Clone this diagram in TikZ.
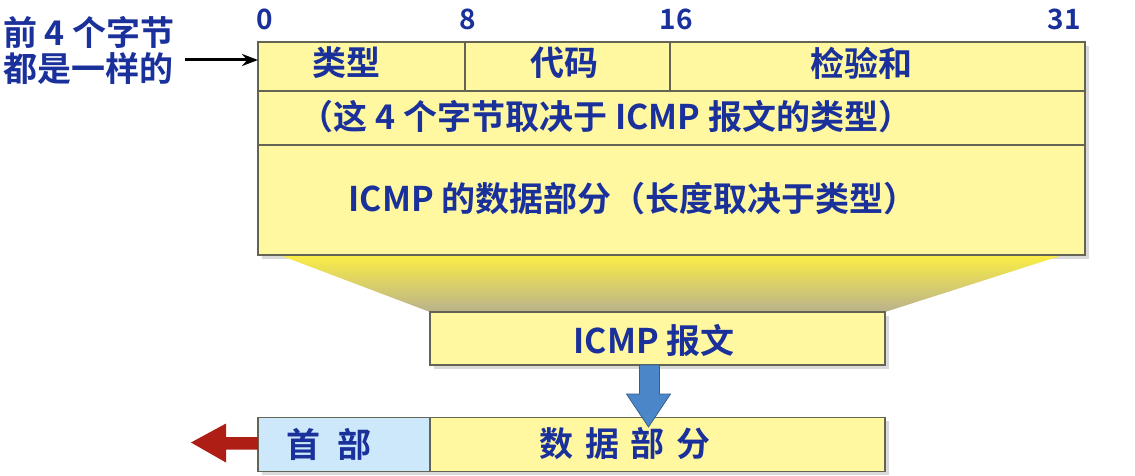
\documentclass[tikz,border=0pt]{standalone}
\usepackage{fontspec}
\setmainfont{Noto Sans CJK SC}[BoldFont={* Bold}]
\usetikzlibrary{arrows.meta,calc}
\definecolor{txt}{RGB}{26,48,155}
\definecolor{yel}{RGB}{255,248,160}
\definecolor{edge}{RGB}{100,100,85}
\definecolor{hdr}{RGB}{204,232,250}
\definecolor{barrow}{RGB}{75,135,200}
\definecolor{rarrow}{RGB}{175,30,20}
\definecolor{trtop}{RGB}{250,236,70}
\definecolor{trbot}{RGB}{185,178,140}
\begin{document}
\begin{tikzpicture}[x=1pt,y=-1pt,
  cell/.style={draw=edge, line width=1.1pt, fill=yel, inner sep=0pt, outer sep=0pt, rectangle},
  lbl/.style={text=txt, font=\bfseries\fontsize{34}{36}\selectfont, inner sep=0pt},
  bit/.style={text=txt, font=\bfseries\fontsize{28}{30}\selectfont, inner sep=0pt},
  shadowbox/.style={fill=black, opacity=0.15}]
\useasboundingbox[fill=white] (0,0) rectangle (1135,476);
% shadows
\fill[shadowbox] (262,46) rectangle (1089,259);
\fill[shadowbox] (434,316) rectangle (889,369);
\fill[shadowbox] (262,421) rectangle (889,475);
% trapezoid
\shade[top color=trtop, bottom color=trbot] (282,256) -- (1060,256) -- (885,312) -- (430,312) -- cycle;
% main box
\node[cell, minimum width=207, minimum height=49] (type) at (361.5,66.5) {};
\node[cell, minimum width=205, minimum height=49] (code) at (567.5,66.5) {};
\node[cell, minimum width=415, minimum height=49] (sum) at (877.5,66.5) {};
\node[cell, minimum width=827, minimum height=54] (row2) at (671.5,118) {};
\node[cell, minimum width=827, minimum height=110] (row3) at (671.5,200) {};
\node[lbl] (ltype) at (346,63) {类型};
\node[lbl] (lcode) at (564,63) {代码};
\node[lbl] (lsum) at (861,63) {检验和};
\node[lbl] (lrow2) at (606,117) {（这 4 个字节取决于 ICMP 报文的类型）};
\node[lbl] (lrow3) at (633,199) {ICMP 的数据部分（长度取决于类型）};
% bit numbers
\node[bit] (b0) at (265,19) {0};
\node[bit] (b8) at (468,19) {8};
\node[bit] (b16) at (676,19) {16};
\node[bit] (b31) at (1064,19) {31};
% left note
\node[lbl, anchor=west] (note1) at (3,32) {前 4 个字节};
\node[lbl, anchor=west] (note2) at (3,69) {都是一样的};
\coordinate (arrstart) at (185,60);
\draw[-{Stealth[length=16pt,width=12pt]}, line width=3pt] (arrstart) -- (arrstart -| type.west);
% ICMP message
\node[cell, minimum width=455, minimum height=53] (msg) at (657.5,338.5) {};
\node[lbl] (lmsg) at (654,340) {ICMP 报文};
% bottom bar
\node[cell, fill=hdr, minimum width=172, minimum height=54] (head) at (344,444.5) {};
\node[cell, minimum width=455, minimum height=54] (data) at (657.5,444.5) {};
\node[lbl] (lhead) at (329,444) {首\hspace{0.5em}部};
\node[lbl] (ldata) at (625,444) {数\hspace{0.35em}据\hspace{0.35em}部\hspace{0.35em}分};
% blue arrow
\coordinate (bs) at ($(msg.south)+(-8,0)$);
\filldraw[fill=barrow, draw=barrow!70!black, line width=0.8pt]
  ($(bs)+(-10,0)$) -- ($(bs)+(10,0)$) -- ($(bs)+(10,29)$) -- ($(bs)+(21,29)$)
  -- ($(bs)+(-1,62)$) -- ($(bs)+(-23,29)$) -- ($(bs)+(-10,29)$) -- cycle;
% red arrow
\coordinate (rs) at (head.west);
\fill[rarrow]
  ($(rs)+(0,-7.5)$) -- ($(rs)+(-32,-7.5)$) -- ($(rs)+(-32,-21)$) -- ($(rs)+(-67,-2)$)
  -- ($(rs)+(-32,18)$) -- ($(rs)+(-32,5)$) -- ($(rs)+(0,5)$) -- cycle;
\end{tikzpicture}
\end{document}
